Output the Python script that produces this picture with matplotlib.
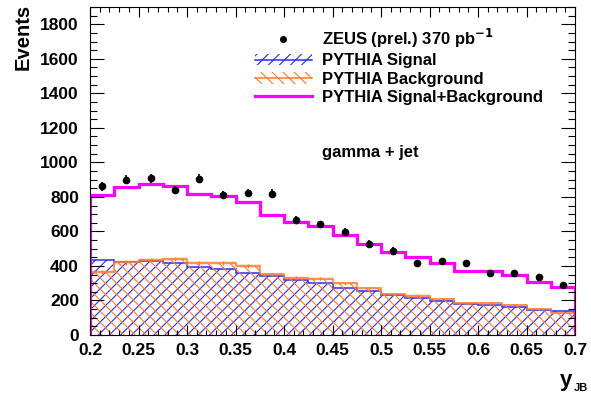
import matplotlib as mpl
import matplotlib.pyplot as plt
import numpy as np
from matplotlib.lines import Line2D
from matplotlib.patches import Patch
from matplotlib.ticker import MultipleLocator

mpl.rcParams['font.family'] = ['Liberation Sans', 'DejaVu Sans']
mpl.rcParams['font.weight'] = 'bold'
mpl.rcParams['hatch.linewidth'] = 0.8

# y_JB binning: 20 bins from 0.2 to 0.7
edges = np.linspace(0.2, 0.7, 21)
centers = 0.5 * (edges[:-1] + edges[1:])

data_y = [862, 899, 908, 839, 905, 812, 822, 818, 664, 641,
          598, 529, 488, 417, 426, 417, 357, 357, 338, 288]
data_err = [26, 26, 26, 25, 26, 25, 25, 25, 23, 22,
            22, 21, 20, 19, 19, 19, 18, 18, 17, 16]

signal = [434, 422, 428, 415, 392, 382, 361, 341, 318, 299,
          270, 255, 229, 212, 197, 179, 175, 160, 145, 137]
background = [367, 420, 432, 440, 415, 415, 401, 351, 330, 326,
              299, 270, 237, 226, 208, 183, 183, 174, 150, 129]
bkg_err = [12, 12, 12, 12, 12, 12, 11, 11, 10, 10,
           10, 9, 9, 9, 8, 8, 8, 8, 7, 7]
total = [810, 858, 872, 865, 818, 807, 772, 696, 656, 631,
         579, 528, 478, 453, 418, 370, 370, 347, 307, 276]

blue = '#2a2aff'
orange = '#ff7a2a'
magenta = '#ff00ff'

fig = plt.figure(figsize=(5.91, 4.01), dpi=100)
ax = fig.add_axes([90 / 591, 1 - 335 / 401, 485 / 591, 328 / 401])

# signal and background, hatched
ax.stairs(signal, edges, fill=True, hatch='///', facecolor='none',
          edgecolor=blue, linewidth=0)
ax.stairs(signal, edges, color=blue, linewidth=1.1)
ax.stairs(background, edges, fill=True, hatch='\\\\\\', facecolor='none',
          edgecolor=orange, linewidth=0)
ax.stairs(np.array(background) + np.array(bkg_err), edges,
          baseline=np.array(background) - np.array(bkg_err), fill=True,
          color=orange, alpha=0.2, linewidth=0)
ax.stairs(background, edges, color=orange, linewidth=1.1)
ax.errorbar(centers, background, yerr=bkg_err, fmt='none',
            ecolor=orange, elinewidth=0.9)

# sum
ax.stairs(total, edges, color=magenta, linewidth=2.3)

# ZEUS data
ax.errorbar(centers, data_y, yerr=data_err, fmt='o', color='black',
            markersize=4.5, elinewidth=1.2, capsize=0)

ax.set_xlim(0.2, 0.7)
ax.set_ylim(0, 1900)
ax.xaxis.set_minor_locator(MultipleLocator(0.01))
ax.yaxis.set_major_locator(MultipleLocator(200))
ax.yaxis.set_minor_locator(MultipleLocator(50))
ax.set_xticks(np.arange(0.2, 0.701, 0.05))
ax.set_xticklabels(['0.2', '0.25', '0.3', '0.35', '0.4', '0.45',
                    '0.5', '0.55', '0.6', '0.65', '0.7'])
ax.tick_params(which='both', direction='in', top=True, right=True,
               labelsize=12.5, width=0.8)
ax.tick_params(axis='x', which='major', length=7.5, pad=6)
ax.tick_params(axis='x', which='minor', length=3.5)
ax.tick_params(axis='y', which='major', length=10, pad=8)
ax.tick_params(axis='y', which='minor', length=5)
for sp in ax.spines.values():
    sp.set_linewidth(0.8)

fig.text(23 / 591, 1 - 4 / 401, 'Events', rotation=90, ha='center',
         va='top', fontsize=14.5, fontweight='bold')
fig.text(566 / 591, 1 - 386 / 401, 'y', ha='center', va='baseline',
         fontsize=16, fontweight='bold')
fig.text(574 / 591, 1 - 391 / 401, 'JB', ha='left', va='baseline',
         fontsize=8, fontweight='bold')

fig.text(322 / 591, 1 - 153 / 401, 'gamma + jet', ha='left', va='center',
         fontsize=12, fontweight='bold')

handles = [
    Line2D([], [], marker='o', color='black', linestyle='none', markersize=4),
    (Patch(facecolor='none', edgecolor=blue, hatch='///', linewidth=0),
     Line2D([], [], color=blue, linewidth=1.1)),
    (Patch(facecolor='none', edgecolor=orange, hatch='\\\\\\', linewidth=0),
     Line2D([], [], color=orange, linewidth=1.1)),
    Line2D([], [], color=magenta, linewidth=2.3),
]
labels = [r'ZEUS (prel.) 370 pb$^{\mathbf{-1}}$', 'PYTHIA Signal',
          'PYTHIA Background', 'PYTHIA Signal+Background']
fig.legend(handles, labels, loc='upper left',
           bbox_to_anchor=(255 / 591, 1 - 27 / 401), frameon=False,
           fontsize=12, handlelength=3.4, handletextpad=0.65,
           labelspacing=0.2, borderpad=0, borderaxespad=0)

fig.savefig('out.png', dpi=100)
